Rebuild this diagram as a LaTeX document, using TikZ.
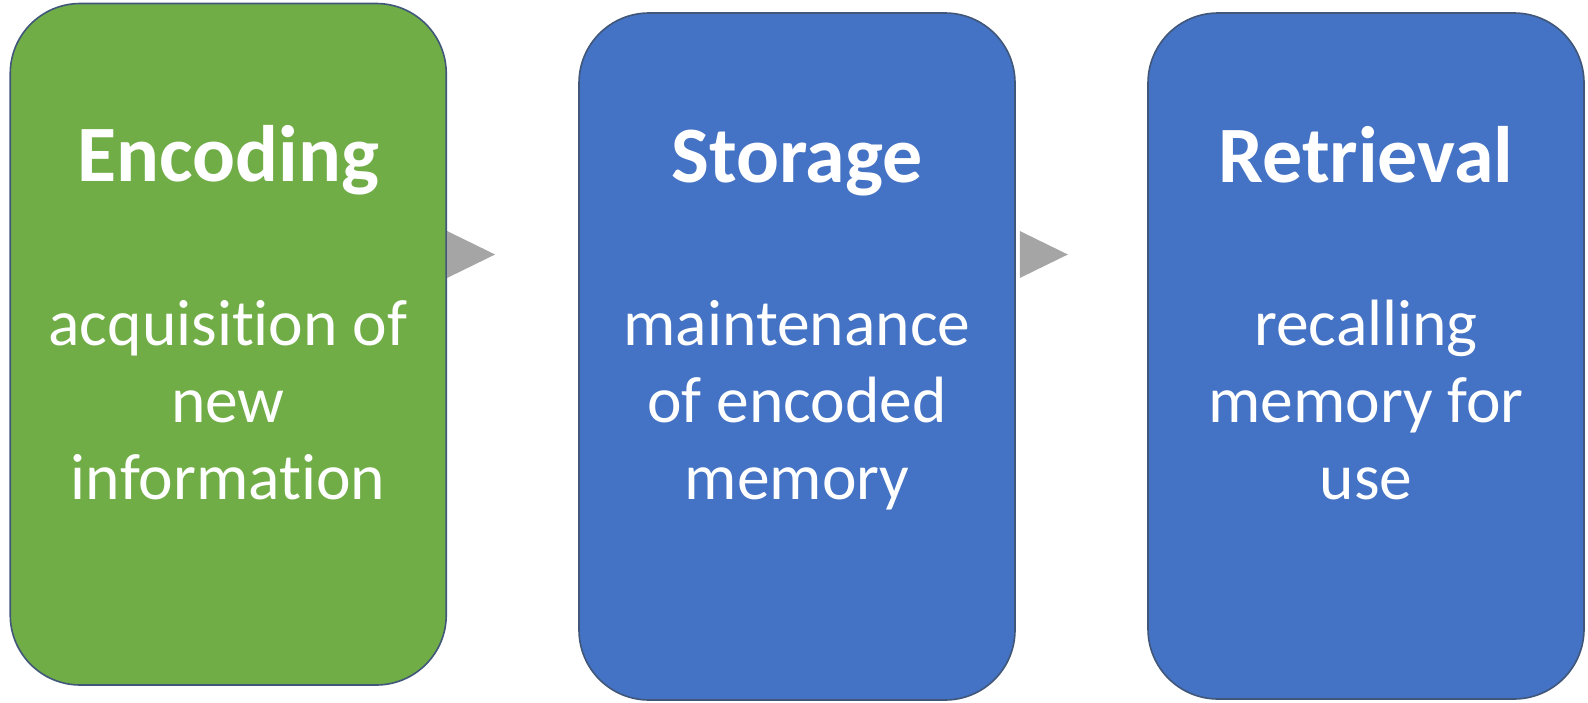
\documentclass[tikz,border=0pt]{standalone}
\usepackage{fontspec}
\setmainfont{Carlito}[Ligatures=NoCommon]
\definecolor{boxgreen}{HTML}{70AD47}
\definecolor{boxblue}{HTML}{4472C4}
\definecolor{boxline}{HTML}{41577A}
\definecolor{chevron}{HTML}{A5A5A5}
\tikzset{
  stage/.style={draw=boxline, line width=1.6pt, rounded corners=70pt, minimum width=436pt, inner sep=0pt},
  title/.style={text=white, font=\fontsize{80}{96}\selectfont\bfseries, anchor=base, inner sep=0pt},
  body/.style={text=white, font=\fontsize{65.5}{77}\selectfont, anchor=base, align=center, inner sep=0pt},
  tri/.style={fill=chevron, draw=none}
}
\begin{document}
\begin{tikzpicture}[x=1pt,y=-1pt]
\useasboundingbox (0,0) rectangle (1588,702);
\node[stage, fill=boxgreen, minimum height=681.5pt] (b1) at (228.25,344.25) {};
\node[stage, fill=boxblue, minimum height=687pt] (b2) at (797,356.5) {};
\node[stage, fill=boxblue, minimum height=686pt] (b3) at (1366,356) {};
\node[title] (t1) at (228,181) {Encoding};
\node[title] (t2) at (797,182) {Storage};
\node[title] (t3) at (1366,182) {Retrieval};
\node[body] (d1) at (228,499) {acquisition of\\new\\information};
\node[body] (d2) at (797,499) {maintenance\\of encoded\\memory};
\node[body] (d3) at (1366,499) {recalling\\memory for\\use};
\fill[tri] (b1.east |- 0,231) -- ([xshift=48pt]b1.east |- 0,254.5) -- (b1.east |- 0,278) -- cycle;
\fill[tri] ([xshift=4pt]b2.east |- 0,231) -- ([xshift=52pt]b2.east |- 0,254.5) -- ([xshift=4pt]b2.east |- 0,278) -- cycle;
\end{tikzpicture}
\end{document}
